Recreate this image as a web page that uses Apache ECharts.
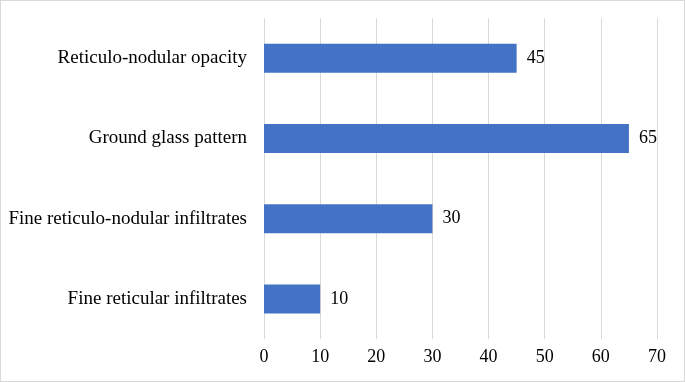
<!DOCTYPE html>
<html>
<head>
<meta charset="utf-8">
<script src="https://cdn.jsdelivr.net/npm/echarts@6/dist/echarts.min.js"></script>
<style>
  html, body { margin: 0; padding: 0; background: #fff; }
  #root { width: 685px; height: 382px; box-sizing: border-box; border: 1px solid #d9d9d9; }
</style>
</head>
<body>
<div id="root"></div>
<script>
// bottom to top, as drawn
var categories = ['Fine reticular infiltrates', 'Fine reticulo-nodular infiltrates', 'Ground glass pattern', 'Reticulo-nodular opacity']
var counts = [10, 30, 65, 45]
var ticks = [0, 10, 20, 30, 40, 50, 60, 70]

var chart = echarts.init(document.getElementById('root'))
var font = '"Liberation Serif", "Times New Roman", serif'

chart.setOption({
  animation: false,
  grid: { left: 263, right: 27, top: 17, bottom: 42 },
  xAxis: {
    type: 'value',
    min: ticks[0],
    max: ticks[ticks.length - 1],
    interval: 10,
    axisLine: { show: false },
    axisTick: { show: false },
    splitLine: { lineStyle: { color: '#d9d9d9', width: 1 } },
    axisLabel: { color: '#000', fontFamily: font, fontSize: 18, margin: 9 }
  },
  yAxis: {
    type: 'category',
    data: categories,
    axisLine: { show: false },
    axisTick: { show: false },
    axisLabel: { color: '#000', fontFamily: font, fontSize: 19, margin: 17 }
  },
  series: [{
    type: 'bar',
    data: counts,
    barWidth: 29,
    itemStyle: { color: '#4472c4' },
    label: { show: true, position: 'right', distance: 10, color: '#000', fontFamily: font, fontSize: 18 }
  }]
})
</script>
</body>
</html>
